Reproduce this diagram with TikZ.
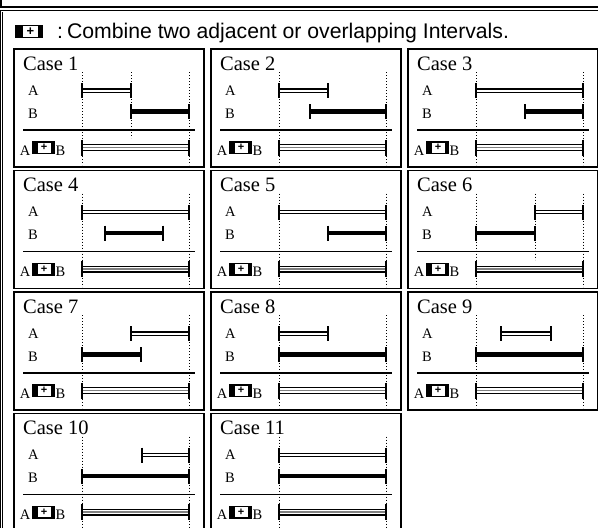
\documentclass[tikz,border=0pt]{standalone}
\usepackage{fontspec}
\setmainfont{Liberation Serif}
\setsansfont{Liberation Sans}
\usetikzlibrary{positioning}

\tikzset{
	every case/.style={draw, line width=1.8pt, minimum width=190pt, minimum height=118pt, inner sep=0pt, anchor=north west},
	case title/.style={anchor=base west, inner sep=0pt, font=\fontsize{20.5}{20.5}\selectfont},
	row label/.style={anchor=base west, inner sep=0pt, font=\fontsize{14.5}{14.5}\selectfont},
	guide/.style={dotted, line width=1pt},
	rule/.style={line width=1.4pt},
	tick/.style={line width=1.6pt},
	bar a/.style={draw=black, double=white, line width=1.2pt, double distance=2pt},
	bar b/.style={line width=4.4pt},
	bar ab/.style={draw=black, double=white, line width=1.1pt, double distance=4.8pt},
	bar ab core/.style={draw=gray, line width=1.5pt},
	frame/.style={draw=black, double=white, line width=0.8pt, double distance=1pt},
	icon/.style={fill=black, inner sep=0pt},
	icon hole/.style={fill=white, inner sep=0pt, font=\sffamily\bfseries},
}

\begin{document}
\begin{tikzpicture}[x=1pt, y=-1pt]
	\useasboundingbox (0,0) rectangle (598,528);

	% frames
	\draw[line width=1.6pt] (1,-5) -- (1,7) -- (605,7);
	\draw[frame] (1.5,540) -- (1.5,11) -- (605,11);

	% heading
	\node[icon, minimum width=28pt, minimum height=13pt] (key) at (29,31.5) {};
	\node[icon hole, minimum width=15pt, minimum height=10.5pt, font=\sffamily\bfseries\fontsize{13}{13}\selectfont] (key-plus) at (30.5,31.5) {+};
	\node[anchor=base west, inner sep=0pt, font=\sffamily\fontsize{21.2}{21.2}\selectfont] (heading) at (57,38.5) {:\hspace{4pt}Combine two adjacent or overlapping Intervals.};

	% cases: number/column/row/A start/A end/B start/B end/middle guide
	\foreach \n/\col/\row/\as/\ae/\bs/\be/\mid in {
		1/0/0/69/118/118/176/118,
		2/1/0/69/118/100/176/0,
		3/2/0/69/176/118/176/0,
		4/0/1/69/176/92/150/0,
		5/1/1/69/176/118/176/0,
		6/2/1/128/176/69/128/128,
		7/0/2/118/176/69/128/0,
		8/1/2/69/118/69/176/0,
		9/2/2/94/144/69/176/0,
		10/0/3/129/176/69/176/0,
		11/1/3/69/176/69/176/0}
	{
		\begin{scope}[shift={(13+197*\col,48+121.5*\row)}]
			\node[every case] (case\n) at (0,0) {};
			\node[case title] (case\n-title) at (10,22) {Case \n};
			\node[row label] (case\n-a) at (15,47) {A};
			\node[row label] (case\n-b) at (15,70) {B};

			% guides
			\draw[guide] (69,24) -- (69,117);
			\draw[guide] (176,24) -- (176,117);
			\ifnum\mid>0
				\draw[guide] (\mid,24) -- (\mid,90);
			\fi

			% interval A
			\coordinate (case\n-as) at (\as,42.5);
			\coordinate (case\n-ae) at (\ae,42.5);
			\draw[bar a] (case\n-as) -- (case\n-ae);
			\foreach \p in {as,ae}
				\draw[tick] ([yshift=7.5pt]case\n-\p) -- ([yshift=-7.5pt]case\n-\p);

			% interval B
			\coordinate (case\n-bs) at (\bs,63.5);
			\coordinate (case\n-be) at (\be,63.5);
			\draw[bar b] (case\n-bs) -- (case\n-be);
			\foreach \p in {bs,be}
				\draw[tick] ([yshift=7.5pt]case\n-\p) -- ([yshift=-7.5pt]case\n-\p);

			\draw[rule] (10,82) -- (182,82);

			% combined
			\node[row label, anchor=base east] (case\n-ab1) at (17.5,107) {A};
			\node[icon, minimum width=23pt, minimum height=13pt] (case\n-op) at (30.5,99.5) {};
			\node[icon hole, minimum width=13pt, minimum height=10pt, font=\sffamily\bfseries\fontsize{11}{11}\selectfont] (case\n-plus) at (31,99.5) {+};
			\node[row label] (case\n-ab2) at (42.5,107) {B};
			\coordinate (case\n-rs) at (69,99.5);
			\coordinate (case\n-re) at (176,99.5);
			\draw[bar ab] (case\n-rs) -- (case\n-re);
			\draw[bar ab core] (case\n-rs) -- (case\n-re);
			\foreach \p in {rs,re}
				\draw[tick] ([yshift=8pt]case\n-\p) -- ([yshift=-8pt]case\n-\p);
		\end{scope}
	}
\end{tikzpicture}
\end{document}
